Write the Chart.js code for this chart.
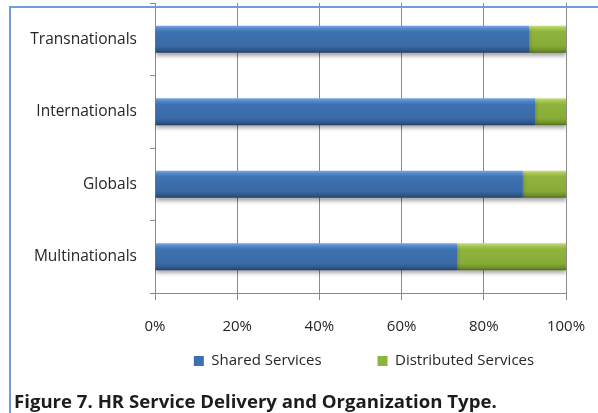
<!DOCTYPE html>
<html>
<head>
<meta charset="utf-8">
<script src="https://cdn.jsdelivr.net/npm/chart.js@4"></script>
<style>
  html, body { margin: 0; padding: 0; background: #fff; }
  #wrap { position: relative; width: 598px; height: 413px; overflow: hidden; }
  #c { position: absolute; left: 0; top: 0; }
  #frame {
    position: absolute; left: 9px; top: 6px; width: 620px; height: 440px;
    border-left: 2px solid #6f9dd8; border-top: 2px solid #6f9dd8;
    pointer-events: none;
  }
  #caption {
    position: absolute; left: 14px; top: 392px;
    font: bold 18.6px/18px "Open Sans", sans-serif; color: #1c1c1c; white-space: nowrap;
  }
</style>
</head>
<body>
<div id="wrap">
  <canvas id="c" width="598" height="413"></canvas>
  <div id="frame"></div>
  <div id="caption">Figure 7. HR Service Delivery and Organization Type.</div>
</div>
<script>
// Organisation types and the share of HR delivery through each model (percent)
const categories = ['Transnationals', 'Internationals', 'Globals', 'Multinationals'];
const sharedServices = [91, 92.5, 89.5, 73.5];
const distributedServices = [9, 7.5, 10.5, 26.5];
const seriesNames = ['Shared Services', 'Distributed Services'];
const tickValues = [0, 20, 40, 60, 80, 100];

const FONT = '"Open Sans", sans-serif';
const BAR_SHARE = 0.37;
const LEGEND_MIDDLE = 361;   // vertical centre of the legend row
const LEGEND_CENTRE = 364;   // horizontal centre of the legend row

// Bevelled look: light top edge, solid body, darker lower edge
const blueStops = [[0, '#7aa6e2'], [0.1, '#5488cb'], [0.22, '#3f72b2'], [0.75, '#3a6aa6'], [0.92, '#2c5689'], [1, '#1f3e66']];
const greenStops = [[0, '#c4de7a'], [0.1, '#a6c653'], [0.22, '#8fb43d'], [0.75, '#88ab38'], [0.92, '#6e8f28'], [1, '#4f6a1a']];

function bevelFill(stops) {
  return (ctx) => {
    const chart = ctx.chart;
    const y = chart.scales && chart.scales.y;
    if (!chart.chartArea || !y || ctx.dataIndex === undefined) return stops[2][1];
    const centre = y.getPixelForValue(ctx.dataIndex);
    const half = (y.height / categories.length) * BAR_SHARE / 2;
    const g = chart.ctx.createLinearGradient(0, centre - half, 0, centre + half);
    stops.forEach(([o, c]) => g.addColorStop(o, c));
    return g;
  };
}

// Soft drop shadow under the bars
const barShadow = {
  id: 'barShadow',
  beforeDatasetsDraw(chart) {
    const c = chart.ctx;
    c.save();
    c.shadowColor = 'rgba(0,0,0,0.35)';
    c.shadowBlur = 4;
    c.shadowOffsetY = 3;
  },
  afterDatasetsDraw(chart) { chart.ctx.restore(); }
};

// Place the legend row under the plot, centred on LEGEND_CENTRE
const legendPlacement = {
  id: 'legendPlacement',
  afterLayout(chart) {
    const lg = chart.legend;
    if (!lg) return;
    const pad = lg.options.labels.padding;
    const fontSize = lg.options.labels.font.size;
    const h = lg.height;
    lg.left = LEGEND_CENTRE - 300;
    lg.right = LEGEND_CENTRE + 300;
    lg.top = LEGEND_MIDDLE - fontSize / 2 - pad;
    lg.bottom = lg.top + h;
  }
};

new Chart(document.getElementById('c'), {
  type: 'bar',
  data: {
    labels: categories,
    datasets: [
      { label: seriesNames[0], data: sharedServices, backgroundColor: bevelFill(blueStops), borderWidth: 0 },
      { label: seriesNames[1], data: distributedServices, backgroundColor: bevelFill(greenStops), borderWidth: 0 }
    ]
  },
  options: {
    indexAxis: 'y',
    responsive: false,
    animation: false,
    devicePixelRatio: 1,
    barPercentage: BAR_SHARE,
    categoryPercentage: 1,
    layout: { padding: { left: 0, top: 3, right: 32, bottom: -22 } },
    scales: {
      x: {
        stacked: true,
        min: 0, max: 100,
        afterBuildTicks(scale) { scale.ticks = tickValues.map(v => ({ value: v })); },
        afterFit(scale) {
          scale.paddingLeft = 0;
          scale.paddingRight = 0;
        },
        ticks: {
          callback: v => v + '%',
          color: '#262626',
          font: { family: FONT, size: 15 },
          padding: 18,
          maxRotation: 0,
          autoSkip: false
        },
        grid: { color: '#8a8a8a', lineWidth: 1, tickLength: 7, drawTicks: true },
        border: { color: '#8a8a8a', width: 1 }
      },
      y: {
        stacked: true,
        afterFit(scale) {
          scale.width = 155;
          scale.paddingTop = 0;
          scale.paddingBottom = 0;
        },
        ticks: {
          color: '#262626',
          font: { family: FONT, size: 15.5 },
          padding: 13
        },
        grid: { drawOnChartArea: false, offset: true, color: '#8a8a8a', tickLength: 5 },
        border: { color: '#8a8a8a', width: 1 }
      }
    },
    plugins: {
      tooltip: { enabled: false },
      legend: {
        position: 'bottom',
        fullSize: true,
        labels: {
          color: '#262626',
          font: { family: FONT, size: 15 },
          boxWidth: 10,
          boxHeight: 10,
          padding: 56,
          generateLabels(chart) {
            const solid = ['#3d70b0', '#8db43c'];
            return Chart.defaults.plugins.legend.labels.generateLabels(chart).map((item, i) => ({
              ...item, fillStyle: solid[i], strokeStyle: solid[i], lineWidth: 0
            }));
          }
        }
      },
      title: { display: false }
    }
  },
  plugins: [barShadow, legendPlacement]
});
</script>
</body>
</html>
